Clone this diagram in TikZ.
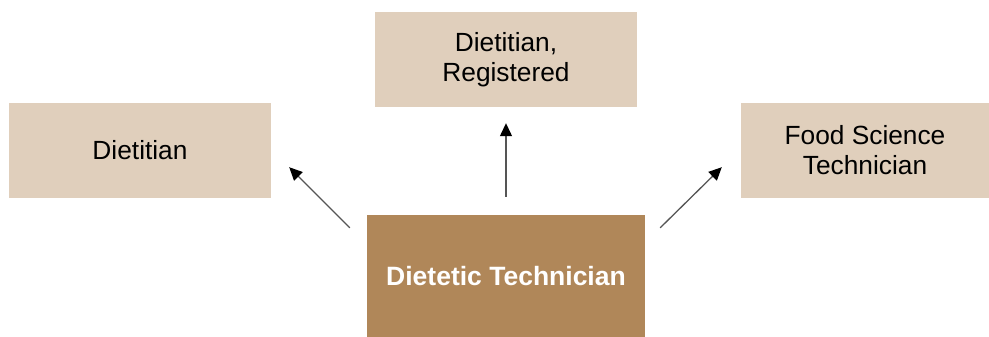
\documentclass[tikz,border=0pt]{standalone}
\usepackage{fontspec}
\setmainfont{Liberation Sans}
\usepackage{xcolor}
\usetikzlibrary{arrows.meta, positioning, calc}

\definecolor{lightbox}{HTML}{E0CFBC}
\definecolor{darkbox}{HTML}{B08759}
\definecolor{linegray}{HTML}{555555}

\begin{document}
\begin{tikzpicture}[
		x=1pt, y=-1pt,
		% Defining node styles
		career/.style={rectangle, fill=lightbox, text centered, minimum height=95pt, align=center, font=\fontsize{26.3}{30}\selectfont},
		start/.style={rectangle, fill=darkbox, text=white, text centered, minimum width=278pt, minimum height=122pt, font=\fontsize{26.5}{30}\selectfont\bfseries},
		connector/.style={-{Triangle[length=13pt, width=12pt, color=black]}, line width=1.3pt, draw=linegray}
	]
	\useasboundingbox (0,0) rectangle (989,337);

	% Placing nodes
	\node[start] (tech) at (506,276) {Dietetic Technician};
	\node[career, minimum width=262pt] (reg) at (506,59.5) {Dietitian,\\Registered};
	\node[career, minimum width=262pt] (diet) at (140,150.5) {Dietitian};
	\node[career, minimum width=248pt] (food) at (865,150.5) {Food Science\\Technician};

	% Arrow ends
	\coordinate (l1) at ($(tech.north west)+(-17,13)$);
	\coordinate (l2) at ($(diet.south east)+(18,-31)$);
	\coordinate (r1) at ($(tech.north east)+(15,13)$);
	\coordinate (r2) at ($(food.south west)+(-19,-31)$);
	\coordinate (m1) at ($(tech.north)+(0,-18)$);
	\coordinate (m2) at ($(reg.south)+(0,16)$);

	% Drawing connections
	\draw[connector] (l1) -- (l2);
	\draw[connector] (m1) -- (m2);
	\draw[connector] (r1) -- (r2);

\end{tikzpicture}
\end{document}
